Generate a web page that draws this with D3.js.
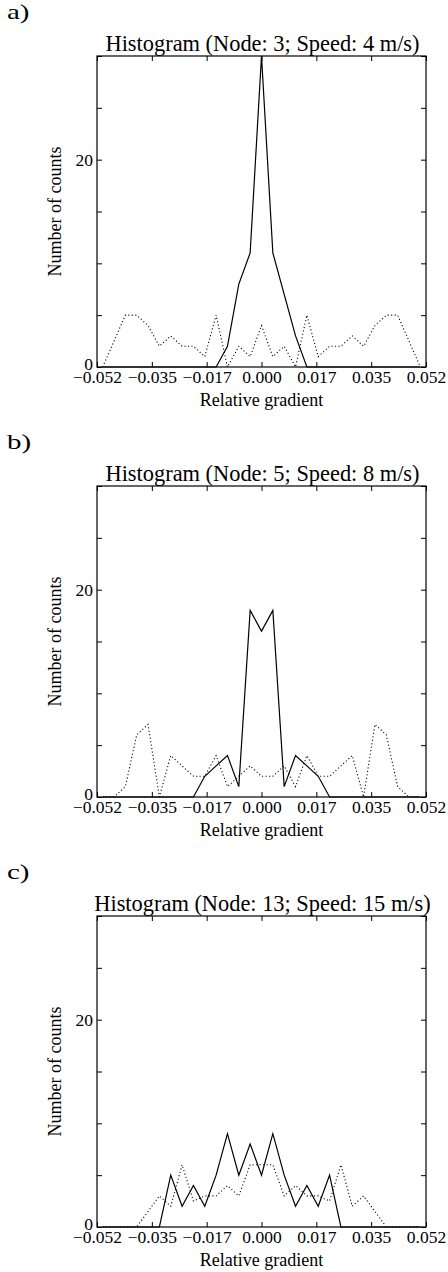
<!DOCTYPE html>
<html>
<head>
<meta charset="utf-8">
<script src="https://cdn.jsdelivr.net/npm/d3@7"></script>
<style>
  body { margin: 0; background: #fff; }
  text { font-family: "Liberation Serif", "DejaVu Serif", serif; fill: #000; }
</style>
</head>
<body>
<svg id="chart" width="448" height="1272"></svg>
<script>
// 29 histogram bins between -0.052 and 0.052
const binCount = 29
const binCenters = d3.range(binCount).map(i => -0.052 + (i + 0.5) * 0.104 / binCount)

const panelLabels = ["a)", "b)", "c)"]
const titles = [
    "Histogram (Node: 3; Speed: 4 m/s)",
    "Histogram (Node: 5; Speed: 8 m/s)",
    "Histogram (Node: 13; Speed: 15 m/s)"
]

// counts per bin (solid line)
const solidA = [0,0,0,0,0,0,0,0,0,0,0,2,8,11,30,11,7,3,0,0,0,0,0,0,0,0,0,0,0]
const solidB = [0,0,0,0,0,0,0,0,0,2,3,4,1,18,16,18,1,4,3,2,0,0,0,0,0,0,0,0,0]
const solidC = [0,0,0,0,0,0,5,2,4,2,5,9,5,8,5,9,5,2,4,2,5,0,0,0,0,0,0,0,0]

// counts per bin (dotted line)
const dottedA = [0,2.5,5,5,4,2,3,2,2,1,5,0,2,1,4,1,2,0,5,1,2,2,3,2,4,5,5,2.5,0]
const dottedB = [0,0,1,6,7,0,4,3,2,2,4,1,2,3,2,2,3,1,4,2,2,3,4,0,7,6,1,0,0]
const dottedC = [0,0,0,0,1.5,3,2,6,2.5,3,3,4,3,6,6,6,3,4,3,3,2.5,6,2,3,1.5,0,0,0,0]

const xTicks = d3.range(-3, 4).map(k => k * 0.052 / 3)
const yTicks = [0, 5, 10, 15, 20, 25, 30]
const yLabelled = [0, 20]

const solids = [solidA, solidB, solidC]
const dotteds = [dottedA, dottedB, dottedC]

const svg = d3.select("#chart")

const plotLeft = 97
const plotRight = 426
const plotHeight = 311
const panelTops = [56, 486, 916]

const x = d3.scaleLinear().domain([-0.052, 0.052]).range([plotLeft, plotRight])
const fmt = d3.format(".3f")

panelTops.forEach((top, i) => {
    const bottom = top + plotHeight
    const y = d3.scaleLinear().domain([0, 30]).range([bottom, top])
    const g = svg.append("g")

    // panel letter (drawn wide, like the original)
    g.append("text")
        .attr("transform", `translate(7,${top - 37}) scale(1.45,1)`)
        .style("font-size", "20px")
        .text(panelLabels[i])

    // title
    g.append("text")
        .attr("x", (plotLeft + plotRight) / 2 + 1)
        .attr("y", top - 5)
        .attr("text-anchor", "middle")
        .style("font-size", "22.4px")
        .text(titles[i])

    // bottom axis with labels, ticks pointing inward
    g.append("g")
        .attr("transform", `translate(0,${bottom})`)
        .call(d3.axisBottom(x).tickValues(xTicks).tickSizeInner(-5).tickSizeOuter(0).tickFormat(fmt))
        .call(a => a.select(".domain").remove())
        .call(a => a.selectAll("text").style("font-size", "17.5px").attr("dy", "0.71em").attr("y", 4))

    // top axis, ticks only
    g.append("g")
        .attr("transform", `translate(0,${top})`)
        .call(d3.axisTop(x).tickValues(xTicks).tickSizeInner(-5).tickSizeOuter(0).tickFormat(""))
        .call(a => a.select(".domain").remove())

    // left axis
    g.append("g")
        .attr("transform", `translate(${plotLeft},0)`)
        .call(d3.axisLeft(y).tickValues(yTicks).tickSizeInner(-5).tickSizeOuter(0)
            .tickFormat(d => yLabelled.includes(d) ? d : ""))
        .call(a => a.select(".domain").remove())
        .call(a => a.selectAll("text").style("font-size", "17.5px").attr("x", -4)
            .attr("y", d => d === 0 ? -3 : 0))

    // right axis, ticks only
    g.append("g")
        .attr("transform", `translate(${plotRight},0)`)
        .call(d3.axisRight(y).tickValues(yTicks).tickSizeInner(-5).tickSizeOuter(0).tickFormat(""))
        .call(a => a.select(".domain").remove())

    g.selectAll(".tick line").attr("stroke", "#000")

    // frame
    g.append("rect")
        .attr("x", plotLeft)
        .attr("y", top)
        .attr("width", plotRight - plotLeft)
        .attr("height", plotHeight)
        .attr("fill", "none")
        .attr("stroke", "#000")
        .attr("stroke-width", 1.2)

    const line = d3.line()
        .x((d, j) => x(binCenters[j]))
        .y(d => y(d))

    g.append("path")
        .datum(dotteds[i])
        .attr("d", line)
        .attr("fill", "none")
        .attr("stroke", "#000")
        .attr("stroke-width", 1.1)
        .attr("stroke-dasharray", "1.1,2.4")

    g.append("path")
        .datum(solids[i])
        .attr("d", line)
        .attr("fill", "none")
        .attr("stroke", "#000")
        .attr("stroke-width", 1.2)

    // axis titles
    g.append("text")
        .attr("x", (plotLeft + plotRight) / 2)
        .attr("y", bottom + 39)
        .attr("text-anchor", "middle")
        .style("font-size", "18px")
        .text("Relative gradient")

    g.append("text")
        .attr("transform", `translate(61,${top + plotHeight / 2}) rotate(-90)`)
        .attr("text-anchor", "middle")
        .style("font-size", "18px")
        .text("Number of counts")
})
</script>
</body>
</html>
